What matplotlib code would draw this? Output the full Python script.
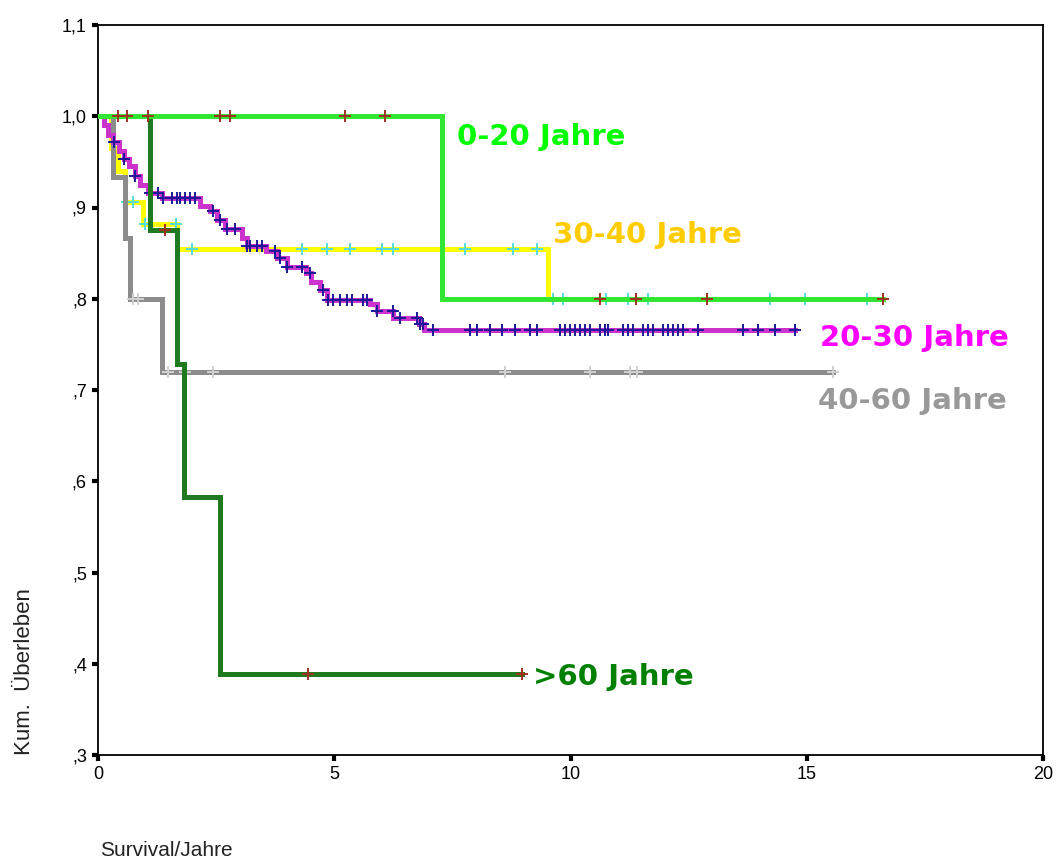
import numpy as np
import matplotlib
matplotlib.use("Agg")
import matplotlib.pyplot as plt

# Kaplan-Meier Stufen je Altersgruppe (Zeit in Jahren, Ueberleben nach dem Ereignis)
t_0_20 = [7.28]
s_0_20 = [0.80]
end_0_20 = 16.62
c_0_20 = [0.42, 0.61, 1.06, 2.58, 2.79, 5.23, 6.07, 10.62, 11.38, 12.89, 16.61]

t_30_40 = [0.27, 0.42, 0.57, 0.95, 1.68, 9.52]
s_30_40 = [0.965, 0.94, 0.906, 0.882, 0.855, 0.80]
end_30_40 = 16.3
c_30_40 = [0.62, 0.75, 1.00, 1.65, 1.99, 4.32, 4.85, 5.33, 6.01, 6.24, 7.77, 8.78, 9.29,
           9.63, 9.84, 10.75, 11.22, 11.64, 14.22, 14.96, 16.28]

t_20_30 = [0.12, 0.22, 0.32, 0.45, 0.55, 0.65, 0.78, 0.88, 1.05, 1.35, 2.15, 2.38, 2.52, 2.68,
           3.05, 3.15, 3.55, 3.78, 4.00, 4.40, 4.50, 4.70, 4.85, 5.75, 5.90, 6.25, 6.80, 6.90]
s_20_30 = [0.99, 0.98, 0.972, 0.962, 0.953, 0.945, 0.935, 0.925, 0.916, 0.91, 0.902, 0.896,
           0.886, 0.876, 0.867, 0.858, 0.852, 0.845, 0.835, 0.828, 0.818, 0.81, 0.799, 0.794,
           0.787, 0.779, 0.772, 0.766]
end_20_30 = 14.75
c_20_30 = [0.33, 0.55, 0.78, 1.10, 1.27, 1.38, 1.56, 1.67, 1.73, 1.84, 1.95, 2.05, 2.44, 2.58,
           2.72, 2.90, 3.15, 3.22, 3.36, 3.47, 3.75, 3.85, 4.00, 4.32, 4.49, 4.77, 4.87, 4.97,
           5.12, 5.27, 5.38, 5.61, 5.69, 5.90, 6.24, 6.39, 6.75, 6.81, 6.88, 7.09, 7.87, 8.02,
           8.30, 8.55, 8.83, 9.14, 9.29, 9.78, 9.88, 9.99, 10.10, 10.20, 10.31, 10.41, 10.62,
           10.73, 10.79, 11.11, 11.22, 11.32, 11.53, 11.64, 11.75, 11.96, 12.06, 12.17, 12.28,
           12.38, 12.70, 13.65, 13.97, 14.33, 14.75]

t_40_60 = [0.32, 0.57, 0.68, 1.35]
s_40_60 = [0.933, 0.867, 0.80, 0.72]
end_40_60 = 15.56
c_40_60 = [0.74, 0.85, 1.48, 1.84, 2.43, 8.61, 10.41, 11.26, 11.41, 15.56]

t_60 = [1.10, 1.67, 1.82, 2.58]
s_60 = [0.875, 0.729, 0.583, 0.389]
end_60 = 8.97
c_60 = [1.42, 4.44, 8.97]

labels = ["0-20 Jahre", "30-40 Jahre", "20-30 Jahre", "40-60 Jahre", ">60 Jahre"]
label_pos = [(7.60, 0.977), (9.63, 0.870), (15.28, 0.757), (15.24, 0.688), (9.21, 0.385)]
label_colors = ["#00ff00", "#ffcc00", "#ff00ff", "#999999", "#008000"]

y_ticks = [0.3, 0.4, 0.5, 0.6, 0.7, 0.8, 0.9, 1.0, 1.1]
y_ticklabels = [",3", ",4", ",5", ",6", ",7", ",8", ",9", "1,0", "1,1"]
x_ticks = [0, 5, 10, 15, 20]


def km_curve(ax, times, surv, end, cens, color, ccolor, z):
    xs = [0] + list(times) + [end]
    ys = [1.0] + list(surv) + [surv[-1]]
    ax.step(xs, ys, where="post", color=color, lw=3.6, zorder=z, solid_joinstyle="miter")
    # Zensierungen auf die Stufenfunktion setzen
    idx = np.searchsorted(np.array(times), np.array(cens), side="right")
    cy = np.array([1.0] + list(surv))[idx]
    ax.plot(cens, cy, "+", color=ccolor, ms=8, mew=1.4, zorder=z + 0.5)


fig = plt.figure(figsize=(10.57, 8.6), dpi=100)
ax = fig.add_axes([98 / 1057, 105 / 860, 945 / 1057, 730 / 860])

km_curve(ax, t_30_40, s_30_40, end_30_40, c_30_40, "#ffff00", "#55dddd", 2)
km_curve(ax, t_40_60, s_40_60, end_40_60, c_40_60, "#8c8c8c", "#d0d0d0", 3)
km_curve(ax, t_20_30, s_20_30, end_20_30, c_20_30, "#cc33cc", "#1a1a99", 4)
km_curve(ax, t_60, s_60, end_60, c_60, "#1f7a1f", "#a03020", 5)
km_curve(ax, t_0_20, s_0_20, end_0_20, c_0_20, "#33e633", "#a03020", 6)

for lab, (lx, ly), col in zip(labels, label_pos, label_colors):
    ax.text(lx, ly, lab, color=col, fontsize=21, fontweight="bold",
            family="DejaVu Sans", ha="left", va="center", zorder=10)

ax.set_xlim(0, 20)
ax.set_ylim(0.3, 1.1)
ax.set_xticks(x_ticks)
ax.set_xticklabels([str(v) for v in x_ticks])
ax.set_yticks(y_ticks)
ax.set_yticklabels(y_ticklabels)
ax.tick_params(direction="out", length=4, width=3, labelsize=13, pad=4)
for lab in ax.get_xticklabels() + ax.get_yticklabels():
    lab.set_family("Liberation Sans")
for sp in ax.spines.values():
    sp.set_linewidth(1.3)

fig.text(25 / 1057, 105 / 860, "Kum.  Überleben", rotation=90, ha="center", va="bottom",
         fontsize=16, family="Liberation Sans", color="#222222")
fig.text(100 / 1057, 10 / 860, "Survival/Jahre", ha="left", va="center",
         fontsize=15, family="Liberation Sans", color="#222222")

fig.savefig("out.png", dpi=100)
